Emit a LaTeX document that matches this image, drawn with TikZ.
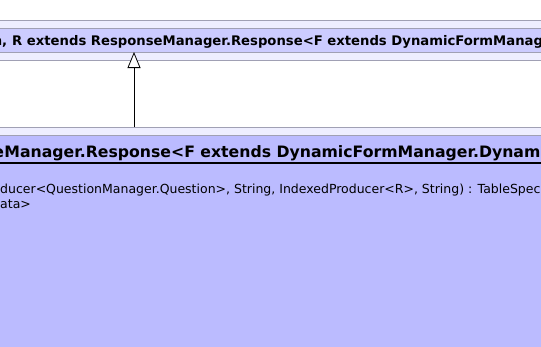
\documentclass[tikz,border=0pt]{standalone}
\usepackage{fontspec}
\setmainfont{DejaVu Sans}
\newfontfamily\umlbold{DejaVu Sans Bold}
\usetikzlibrary{arrows.meta}
\definecolor{bandlight}{RGB}{238,238,255}
\definecolor{bandmid}{RGB}{204,204,255}
\definecolor{classbody}{RGB}{187,187,255}
\definecolor{rulegray}{RGB}{160,160,180}
\tikzset{
  band/.style={draw=rulegray, line width=1pt},
  sig/.style={inner sep=0pt, text=black},
  generalization/.style={-{Triangle[open, length=16pt, width=13pt, fill=white]}, line width=0.8pt, black},
}
\begin{document}
\begin{tikzpicture}[x=1pt, y=-1pt]
  \useasboundingbox (0,0) rectangle (541,346);
  \clip (0,0) rectangle (541,346);
  \fill[white] (0,0) rectangle (541,346);

  % superclass box (TableSpecMaker)
  \fill[bandlight] (-5,20) rectangle (546,60);
  \fill[bandmid] (-5,28) rectangle (546,52);
  \draw[band] (-5,20) -- (546,20);
  \draw[band] (-5,28) -- (546,28);
  \draw[band] (-5,52) -- (546,52);
  \draw[band] (-5,60) -- (546,60);
  \node[sig, anchor=base east, font=\umlbold\fontsize{13.2}{16}\selectfont] (supA) at (7.4,45.3) {Question,};
  \node[sig, anchor=base west, font=\umlbold\fontsize{13.2}{16}\selectfont] (supB) at (12,45.3)
    {R extends ResponseManager.Response<F extends DynamicFormManager.DynamicForm>};

  % subclass box
  \fill[classbody] (-5,127) rectangle (546,350);
  \fill[bandlight] (-5,127) rectangle (546,135);
  \draw[band] (-5,127) -- (546,127);
  \draw[band] (-5,135) -- (546,135);
  \draw[black, line width=2pt] (-5,163) -- (546,163);
  \node[sig, anchor=base east, font=\umlbold\fontsize{15.7}{18}\selectfont] (subA) at (4.3,157.5) {Response};
  \node[sig, anchor=base west, font=\umlbold\fontsize{15.7}{18}\selectfont] (subB) at (4.3,157.5)
    {Manager.Response<F extends DynamicFormManager.DynamicForm>};
  \node[sig, anchor=base west, font=\fontsize{12.5}{15}\selectfont] (op1) at (0,193)
    {ducer<QuestionManager.Question>, String, IndexedProducer<R>, String) : TableSpec};
  \node[sig, anchor=base west, font=\fontsize{12.5}{15}\selectfont] (op2) at (0,208) {ata>};

  % generalization connector
  \coordinate (sub) at (134,127);
  \coordinate (super) at (134,52);
  \draw[generalization] (sub) -- (super);
\end{tikzpicture}
\end{document}
